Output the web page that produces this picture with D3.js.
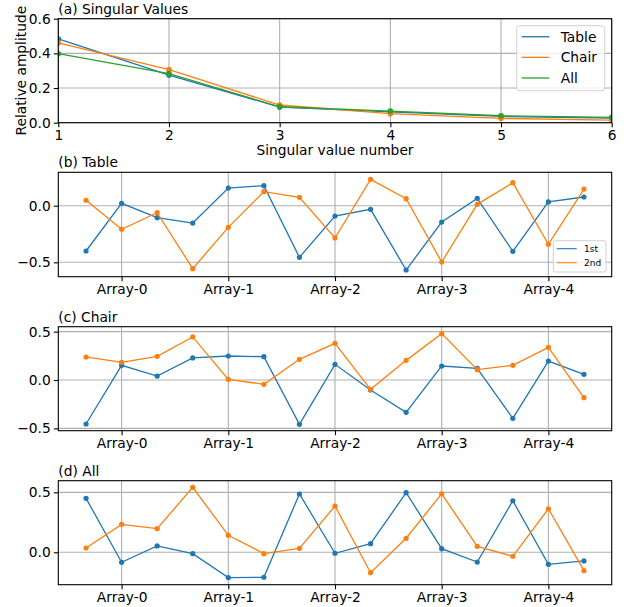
<!DOCTYPE html>
<html>
<head>
<meta charset="utf-8">
<script src="https://cdn.jsdelivr.net/npm/d3@7"></script>
<style>
  body { margin: 0; background: #fff; }
  svg { display: block; font-family: "DejaVu Sans", sans-serif; }
</style>
</head>
<body>
<svg id="chart" width="629" height="607"></svg>
<script>
// ---------- data ----------
const svNumbers = [1, 2, 3, 4, 5, 6];
const svTable = [0.483, 0.275, 0.090, 0.063, 0.036, 0.027];
const svChair = [0.460, 0.306, 0.102, 0.052, 0.025, 0.015];
const svAll   = [0.398, 0.283, 0.092, 0.067, 0.040, 0.031];
const svSeriesNames = ["Table", "Chair", "All"];

const arrayLabels = ["Array-0", "Array-1", "Array-2", "Array-3", "Array-4"];
const componentNames = ["1st", "2nd"];

const tableFirst  = [-0.400, 0.021, -0.106, -0.153, 0.156, 0.177, -0.456, -0.091, -0.032, -0.568, -0.144, 0.065, -0.403, 0.033, 0.077];
const tableSecond = [0.048, -0.208, -0.062, -0.556, -0.191, 0.124, 0.074, -0.285, 0.233, 0.062, -0.497, 0.012, 0.203, -0.341, 0.147];

const chairFirst  = [-0.455, 0.152, 0.041, 0.228, 0.248, 0.241, -0.458, 0.162, -0.103, -0.334, 0.145, 0.121, -0.396, 0.196, 0.059];
const chairSecond = [0.238, 0.183, 0.245, 0.445, 0.007, -0.045, 0.214, 0.379, -0.096, 0.203, 0.479, 0.107, 0.152, 0.338, -0.183];

const allFirst  = [0.450, -0.083, 0.053, -0.011, -0.211, -0.208, 0.486, -0.008, 0.072, 0.497, 0.030, -0.081, 0.430, -0.100, -0.072];
const allSecond = [0.036, 0.233, 0.197, 0.542, 0.142, -0.011, 0.033, 0.386, -0.170, 0.117, 0.488, 0.050, -0.033, 0.363, -0.153];

// ---------- style ----------
const C = ["#1f77b4", "#ff7f0e", "#2ca02c"];
const FS = 13.8;
const LEFT = 58.3, RIGHT = 611.7;
const GRID = "#b0b0b0";
const fmt = v => (v < 0 ? "\u2212" : "") + Math.abs(v).toFixed(1);

const svg = d3.select("#chart");

function panel(opts) {
  const { top, bottom, xScale, yScale, xTicks, xFmt, yTicks, title, id } = opts;
  const g = svg.append("g");
  // clip
  svg.append("defs").append("clipPath").attr("id", id)
    .append("rect").attr("x", LEFT).attr("y", top).attr("width", RIGHT - LEFT).attr("height", bottom - top);

  // grid
  const grid = g.append("g");
  xTicks.forEach(t => grid.append("line")
    .attr("x1", xScale(t)).attr("x2", xScale(t)).attr("y1", top).attr("y2", bottom)
    .attr("stroke", GRID).attr("stroke-width", 1.1));
  yTicks.forEach(t => grid.append("line")
    .attr("x1", LEFT).attr("x2", RIGHT).attr("y1", yScale(t)).attr("y2", yScale(t))
    .attr("stroke", GRID).attr("stroke-width", 1.1));

  // axes
  const xa = g.append("g").attr("transform", `translate(0,${bottom})`)
    .call(d3.axisBottom(xScale).tickValues(xTicks).tickFormat(xFmt).tickSize(4.5).tickPadding(3));
  const ya = g.append("g").attr("transform", `translate(${LEFT},0)`)
    .call(d3.axisLeft(yScale).tickValues(yTicks).tickFormat(fmt).tickSize(4.5).tickPadding(3));
  [xa, ya].forEach(a => {
    a.select(".domain").remove();
    a.selectAll("line").attr("stroke", "#000").attr("stroke-width", 1.1);
    a.selectAll("text").attr("font-size", FS).attr("font-family", "DejaVu Sans").attr("fill", "#000");
  });

  // title
  g.append("text").attr("x", LEFT).attr("y", top - 5).attr("font-size", FS).text(title);

  const plot = svg.append("g").attr("clip-path", `url(#${id})`);
  return { g, plot, top, bottom };
}

function spines(top, bottom) {
  svg.append("rect").attr("x", LEFT).attr("y", top).attr("width", RIGHT - LEFT).attr("height", bottom - top)
    .attr("fill", "none").attr("stroke", "#000").attr("stroke-width", 1.1);
}

function series(plot, xs, ys, color, x, y, r) {
  const pts = ys.map((v, i) => [xs[i], v]);
  plot.append("path").datum(pts)
    .attr("d", d3.line().x(d => x(d[0])).y(d => y(d[1])))
    .attr("fill", "none").attr("stroke", color).attr("stroke-width", 1.3);
  plot.selectAll(null).data(pts).enter().append("circle")
    .attr("cx", d => x(d[0])).attr("cy", d => y(d[1])).attr("r", r).attr("fill", color);
}

// ---------- panel (a) ----------
{
  const top = 18.7, bottom = 122.7;
  const x = d3.scaleLinear().domain([1, 6]).range([LEFT, RIGHT]);
  const y = d3.scaleLinear().domain([0, 0.6]).range([bottom, top]);
  const p = panel({ top, bottom, xScale: x, yScale: y, xTicks: svNumbers, xFmt: d3.format("d"),
    yTicks: [0, 0.2, 0.4, 0.6], title: "(a) Singular Values", id: "clipA" });
  [svTable, svChair, svAll].forEach((s, i) => series(p.plot, svNumbers, s, C[i], x, y, 2.8));
  spines(top, bottom);
  // axis labels
  svg.append("text").attr("x", (LEFT + RIGHT) / 2).attr("y", 155).attr("text-anchor", "middle")
    .attr("font-size", FS).text("Singular value number");
  svg.append("text").attr("transform", `translate(26,${(top + bottom) / 2}) rotate(-90)`)
    .attr("text-anchor", "middle").attr("font-size", FS).text("Relative amplitude");
  // legend
  const lg = svg.append("g");
  lg.append("rect").attr("x", 516.7).attr("y", 25.7).attr("width", 88).attr("height", 65).attr("rx", 3)
    .attr("fill", "#fff").attr("fill-opacity", 0.8).attr("stroke", "#d0d0d0").attr("stroke-width", 1);
  svSeriesNames.forEach((n, i) => {
    const yy = 36.7 + i * 20.65;
    lg.append("line").attr("x1", 521.7).attr("x2", 549.3).attr("y1", yy).attr("y2", yy)
      .attr("stroke", C[i]).attr("stroke-width", 1.3);
    lg.append("text").attr("x", 560.7).attr("y", yy + 5).attr("font-size", FS).text(n);
  });
}

// ---------- panels (b), (c), (d) ----------
const idx = d3.range(tableFirst.length);
const arrayTicks = arrayLabels.map((_, k) => 3 * k + 1);
const arrFmt = d => arrayLabels[(d - 1) / 3];

const panelsBCD = [
  { title: "(b) Table", first: tableFirst, second: tableSecond, top: 172.3, bottom: 276.7, dom: [-0.627, 0.295], ticks: [-0.5, 0.0], id: "clipB", legend: true },
  { title: "(c) Chair", first: chairFirst, second: chairSecond, top: 326.7, bottom: 430.7, dom: [-0.524, 0.551], ticks: [-0.5, 0.0, 0.5], id: "clipC" },
  { title: "(d) All", first: allFirst, second: allSecond, top: 480.7, bottom: 584.7, dom: [-0.27, 0.597], ticks: [0.0, 0.5], id: "clipD" }
];

panelsBCD.forEach(P => {
  const x = d3.scaleLinear().domain([-0.78, 14.78]).range([LEFT, RIGHT]);
  const y = d3.scaleLinear().domain(P.dom).range([P.bottom, P.top]);
  const p = panel({ top: P.top, bottom: P.bottom, xScale: x, yScale: y, xTicks: arrayTicks, xFmt: arrFmt,
    yTicks: P.ticks, title: P.title, id: P.id });
  series(p.plot, idx, P.first, C[0], x, y, 2.6);
  series(p.plot, idx, P.second, C[1], x, y, 2.6);
  spines(P.top, P.bottom);
  if (P.legend) {
    const lg = svg.append("g");
    lg.append("rect").attr("x", 553.3).attr("y", 240.7).attr("width", 52.7).attr("height", 31.3).attr("rx", 2)
      .attr("fill", "#fff").attr("fill-opacity", 0.8).attr("stroke", "#d0d0d0").attr("stroke-width", 1);
    componentNames.forEach((n, i) => {
      const yy = 248.7 + i * 14;
      lg.append("line").attr("x1", 556.7).attr("x2", 576.7).attr("y1", yy).attr("y2", yy)
        .attr("stroke", C[i]).attr("stroke-width", 1.1);
      lg.append("text").attr("x", 584).attr("y", yy + 3.3).attr("font-size", 9).text(n);
    });
  }
});
</script>
</body>
</html>
